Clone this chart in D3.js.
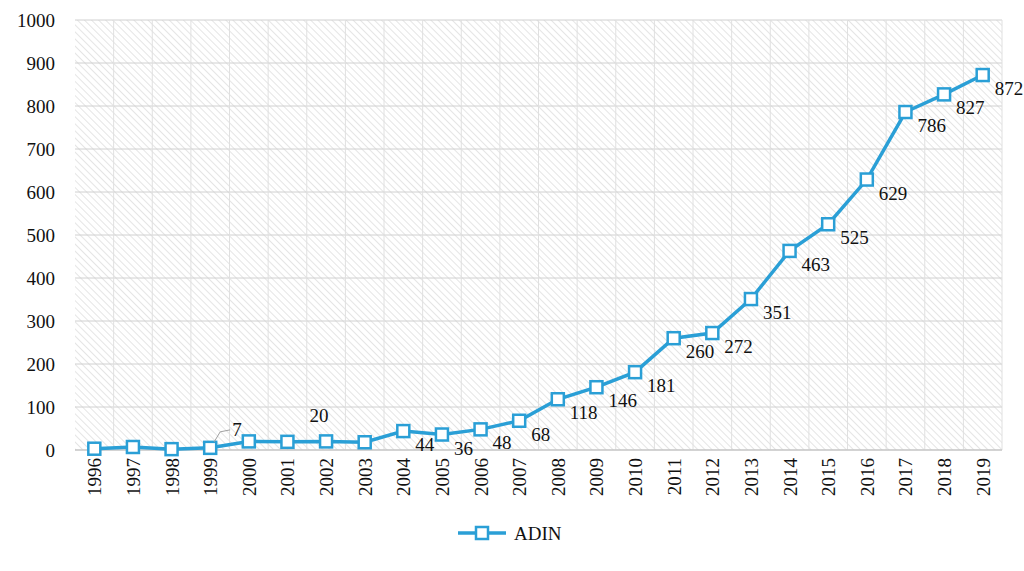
<!DOCTYPE html>
<html><head><meta charset="utf-8">
<script src="https://cdn.jsdelivr.net/npm/d3@7"></script>
<style>body{margin:0;background:#fff}</style>
</head><body><div id="chart"></div>
<script>
const years = d3.range(1996, 2020).map(String);
const values = [3, 7, 2, 5, 20, 19, 20, 18, 44, 36, 48, 68, 118, 146, 181, 260, 272, 351, 463, 525, 629, 786, 827, 872];
const labels = ["", "", "", "7", "", "20", "", "", "44", "36", "48", "68", "118", "146", "181", "260", "272", "351", "463", "525", "629", "786", "827", "872"];
const yTicks = d3.range(0, 1001, 100);

const width = 1024, height = 571;
const margin = { top: 20, right: 22, bottom: 121, left: 75 };
const color = "#2a9fd6";

const svg = d3.select("#chart").append("svg").attr("width", width).attr("height", height)
  .style("font-family", "'Liberation Serif', 'DejaVu Serif', serif");

const defs = svg.append("defs");
const pat = defs.append("pattern").attr("id", "hatch").attr("patternUnits", "userSpaceOnUse")
  .attr("width", 5).attr("height", 5).attr("patternTransform", "rotate(-45)");
pat.append("line").attr("x1", 0).attr("y1", 0).attr("x2", 0).attr("y2", 5)
  .attr("stroke", "#d4d4d4").attr("stroke-width", 1.2);

const x = d3.scalePoint().domain(years).range([margin.left, width - margin.right]).padding(0.5);
const y = d3.scaleLinear().domain([0, 1000]).range([height - margin.bottom, margin.top]);

svg.append("rect").attr("x", margin.left).attr("y", margin.top)
  .attr("width", width - margin.left - margin.right).attr("height", y(0) - margin.top)
  .attr("fill", "url(#hatch)");

// gridlines
svg.append("g").selectAll("line").data(yTicks).join("line")
  .attr("x1", margin.left).attr("x2", width - margin.right)
  .attr("y1", d => y(d)).attr("y2", d => y(d)).attr("stroke", "#d0d0d0");
const step = x.step();
svg.append("g").selectAll("line").data(years).join("line")
  .attr("x1", d => x(d) + step / 2).attr("x2", d => x(d) + step / 2)
  .attr("y1", margin.top).attr("y2", y(0)).attr("stroke", "#e0e0e0");

// y axis labels
svg.append("g").selectAll("text").data(yTicks).join("text")
  .attr("x", margin.left - 20).attr("y", d => y(d)).attr("dy", "0.35em")
  .attr("text-anchor", "end").attr("font-size", 19).attr("fill", "#111").text(d => d);

// x axis
svg.append("line").attr("x1", margin.left).attr("x2", width - margin.right)
  .attr("y1", y(0)).attr("y2", y(0)).attr("stroke", "#bfbfbf");
svg.append("g").selectAll("text").data(years).join("text")
  .attr("transform", d => `translate(${x(d) + 7},${y(0) + 8}) rotate(-90)`)
  .attr("text-anchor", "end").attr("font-size", 19).attr("fill", "#111").text(d => d);

// line
const line = d3.line().x((d, i) => x(years[i])).y(d => y(d));
svg.append("path").datum(values).attr("d", line).attr("fill", "none")
  .attr("stroke", color).attr("stroke-width", 3.5);
svg.append("g").selectAll("rect").data(values).join("rect")
  .attr("x", (d, i) => x(years[i]) - 6).attr("y", d => y(d) - 6)
  .attr("width", 12).attr("height", 12).attr("fill", "#fff")
  .attr("stroke", color).attr("stroke-width", 2.5);

// data labels
svg.append("g").selectAll("text").data(values).join("text")
  .attr("x", (d, i) => i === 3 ? x(years[i]) + 22 : i === 5 ? x(years[i]) + 22 : x(years[i]) + 12)
  .attr("y", (d, i) => i === 3 ? y(d) - 12 : i === 5 ? y(d) - 20 : y(d) + 20)
  .attr("font-size", 19).attr("fill", "#111").text((d, i) => labels[i]);
svg.append("path")
  .attr("d", `M${x(years[3]) + 4},${y(values[3]) - 6} L${x(years[3]) + 10},${y(values[3]) - 16} L${x(years[3]) + 20},${y(values[3]) - 18}`)
  .attr("fill", "none").attr("stroke", "#a0a0a0");

// legend
const lg = svg.append("g").attr("transform", "translate(458,533)");
lg.append("line").attr("x1", 0).attr("x2", 48).attr("stroke", color).attr("stroke-width", 3.5);
lg.append("rect").attr("x", 18).attr("y", -6).attr("width", 12).attr("height", 12)
  .attr("fill", "#fff").attr("stroke", color).attr("stroke-width", 2.5);
lg.append("text").attr("x", 56).attr("dy", "0.35em").attr("font-size", 19).attr("fill", "#111").text("ADIN");
</script></body></html>
